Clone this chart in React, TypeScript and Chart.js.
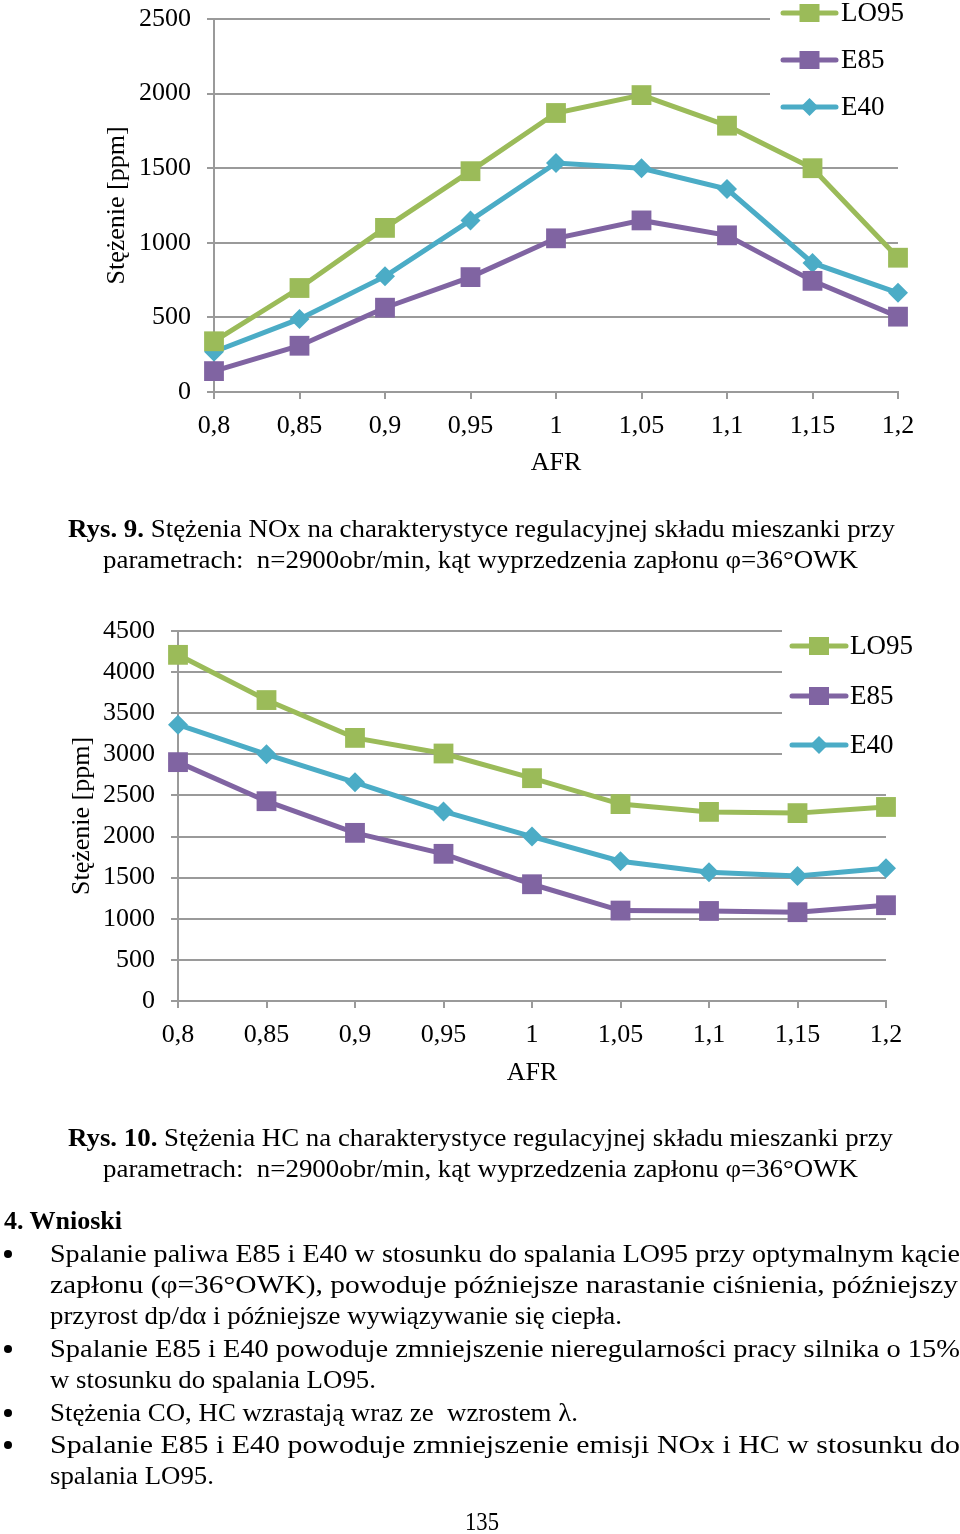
import React, { useEffect, useRef } from 'react';
import { Chart, registerables } from 'chart.js';

Chart.register(...registerables);

// ---------- data ----------
const AFR_LABELS = ['0,8', '0,85', '0,9', '0,95', '1', '1,05', '1,1', '1,15', '1,2'];
const SERIES_NAMES = ['LO95', 'E85', 'E40'];

const NOX_LO95 = [340, 697, 1100, 1480, 1870, 1990, 1785, 1500, 900];
const NOX_E85 = [140, 310, 565, 770, 1030, 1150, 1050, 745, 505];
const NOX_E40 = [270, 490, 775, 1150, 1535, 1500, 1360, 865, 665];

const HC_LO95 = [4210, 3660, 3200, 3010, 2710, 2395, 2300, 2285, 2360];
const HC_E85 = [2905, 2430, 2045, 1790, 1420, 1100, 1095, 1080, 1165];
const HC_E40 = [3360, 3000, 2660, 2305, 2000, 1700, 1565, 1520, 1615];

const NOX_MAX = 2500;
const HC_MAX = 4500;
const Y_STEP = 500;

const Y_TITLE = 'Stężenie [ppm]';
const X_TITLE = 'AFR';

// ---------- styles ----------
const FONT = '"Liberation Serif", "Times New Roman", serif';
const COLORS = ['#9bbb59', '#8064a2', '#4bacc6'];
const POINT_STYLES = ['rect', 'rect', 'rectRot'];
const POINT_RADII = [14, 14, 10];
const GRID = '#9a9a9a';

const insetLegend = {
  id: 'insetLegend',
  beforeDatasetsDraw(chart: any, _args: any, opts: any) {
    const { ctx } = chart;
    ctx.save();
    ctx.fillStyle = '#ffffff';
    ctx.fillRect(opts.boxLeft, 0, chart.width - opts.boxLeft, opts.boxBottom);
    chart.data.datasets.forEach((ds: any, i: number) => {
      const y = opts.ys[i];
      ctx.strokeStyle = ds.borderColor;
      ctx.lineWidth = 5;
      ctx.lineCap = 'round';
      ctx.beginPath();
      ctx.moveTo(opts.lineX1, y);
      ctx.lineTo(opts.lineX2, y);
      ctx.stroke();
      const cx = (opts.lineX1 + opts.lineX2) / 2;
      ctx.fillStyle = ds.backgroundColor;
      ctx.beginPath();
      if (ds.pointStyle === 'rectRot') {
        const r = 9;
        ctx.moveTo(cx, y - r);
        ctx.lineTo(cx + r, y);
        ctx.lineTo(cx, y + r);
        ctx.lineTo(cx - r, y);
        ctx.closePath();
      } else {
        ctx.rect(cx - 10, y - 9, 20, 18);
      }
      ctx.fill();
      ctx.fillStyle = '#000';
      ctx.font = `27px ${FONT}`;
      ctx.textBaseline = 'middle';
      ctx.textAlign = 'left';
      ctx.fillText(ds.label, opts.textX, y + 1);
    });
    ctx.restore();
  },
};

type Area = { left: number; right: number; top: number; bottom: number };

function LineChart(props: {
  top: number;
  height: number;
  series: number[][];
  yMax: number;
  area: Area;
  yTitleX: number;
  xTitleY: number;
  legend: any;
}) {
  const ref = useRef<HTMLCanvasElement | null>(null);
  useEffect(() => {
    if (!ref.current) return;
    const { height: H, area, yTitleX, xTitleY, series, yMax, legend } = props;
    const half = (26 * 1.2) / 2;
    const chart = new Chart(ref.current, {
      type: 'line',
      data: {
        labels: AFR_LABELS,
        datasets: series.map((vals, i) => ({
          label: SERIES_NAMES[i],
          data: vals,
          borderColor: COLORS[i],
          backgroundColor: COLORS[i],
          pointBackgroundColor: COLORS[i],
          pointBorderColor: COLORS[i],
          pointBorderWidth: 0,
          borderWidth: 5,
          pointStyle: POINT_STYLES[i] as any,
          pointRadius: POINT_RADII[i],
          tension: 0,
          clip: false as any,
        })),
      },
      options: {
        responsive: false,
        animation: false,
        devicePixelRatio: 1,
        layout: { padding: { left: 0, top: area.top, right: 960 - area.right, bottom: 0 } },
        plugins: {
          legend: { display: false },
          tooltip: { enabled: false },
          insetLegend: legend,
        } as any,
        scales: {
          x: {
            type: 'category',
            offset: false,
            grid: { color: 'rgba(0,0,0,0)', tickColor: GRID, tickLength: 7, lineWidth: 2, offset: false },
            border: { display: true, color: GRID, width: 2 },
            ticks: { color: '#000', font: { size: 26, family: FONT }, padding: 12, maxRotation: 0, autoSkip: false },
            title: {
              display: true,
              text: X_TITLE,
              color: '#000',
              font: { size: 26, family: FONT, lineHeight: 1.2 },
              padding: { top: 0, bottom: H - xTitleY - half },
            },
            afterFit: (s: any) => {
              s.height = H - area.bottom;
              s.paddingLeft = 0;
              s.paddingRight = 0;
            },
          },
          y: {
            min: 0,
            max: yMax,
            ticks: {
              stepSize: Y_STEP,
              color: '#000',
              font: { size: 26, family: FONT },
              padding: 16,
              callback: (v: any) => String(v),
            },
            grid: { color: GRID, tickColor: GRID, tickLength: 7, lineWidth: 2 },
            border: { display: true, color: GRID, width: 2 },
            title: {
              display: true,
              text: Y_TITLE,
              color: '#000',
              font: { size: 26, family: FONT, lineHeight: 1.2 },
              padding: { top: yTitleX - half, bottom: 0 },
            },
            afterFit: (s: any) => {
              s.width = area.left;
              s.paddingTop = 0;
              s.paddingBottom = 0;
            },
          },
        },
      } as any,
      plugins: [insetLegend],
    });
    return () => chart.destroy();
  }, []);
  return (
    <canvas
      ref={ref}
      width={960}
      height={props.height}
      style={{ position: 'absolute', left: 0, top: props.top, width: 960, height: props.height }}
    />
  );
}

type Line = { x1: number; x2: number; base: number; parts: { t: string; b?: boolean }[] };

const TEXT_LINES: Line[] = [
  { x1: 68, x2: 895, base: 537, parts: [{ t: 'Rys. 9.', b: true }, { t: ' Stężenia NOx na charakterystyce regulacyjnej składu mieszanki przy' }] },
  { x1: 103, x2: 858, base: 568, parts: [{ t: 'parametrach:  n=2900obr/min, kąt wyprzedzenia zapłonu φ=36°OWK' }] },
  { x1: 68, x2: 893, base: 1146, parts: [{ t: 'Rys. 10.', b: true }, { t: ' Stężenia HC na charakterystyce regulacyjnej składu mieszanki przy' }] },
  { x1: 103, x2: 858, base: 1177, parts: [{ t: 'parametrach:  n=2900obr/min, kąt wyprzedzenia zapłonu φ=36°OWK' }] },
  { x1: 4, x2: 122, base: 1229, parts: [{ t: '4. Wnioski', b: true }] },
  { x1: 50, x2: 960, base: 1262, parts: [{ t: 'Spalanie paliwa E85 i E40 w stosunku do spalania LO95 przy optymalnym kącie' }] },
  { x1: 50, x2: 958, base: 1293, parts: [{ t: 'zapłonu (φ=36°OWK), powoduje późniejsze narastanie ciśnienia, późniejszy' }] },
  { x1: 50, x2: 622, base: 1324, parts: [{ t: 'przyrost dp/dα i późniejsze wywiązywanie się ciepła.' }] },
  { x1: 50, x2: 960, base: 1357, parts: [{ t: 'Spalanie E85 i E40 powoduje zmniejszenie nieregularności pracy silnika o 15%' }] },
  { x1: 50, x2: 376, base: 1388, parts: [{ t: 'w stosunku do spalania LO95.' }] },
  { x1: 50, x2: 578, base: 1421, parts: [{ t: 'Stężenia CO, HC wzrastają wraz ze  wzrostem λ.' }] },
  { x1: 50, x2: 960, base: 1453, parts: [{ t: 'Spalanie E85 i E40 powoduje zmniejszenie emisji NOx i HC w stosunku do' }] },
  { x1: 50, x2: 214, base: 1484, parts: [{ t: 'spalania LO95.' }] },
  { x1: 465, x2: 499, base: 1530, parts: [{ t: '135' }] },
];

const BULLET_YS = [1254, 1349, 1413, 1445];

function PageText() {
  return (
    <svg
      width={960}
      height={1534}
      style={{ position: 'absolute', left: 0, top: 0, pointerEvents: 'none' }}
    >
      {TEXT_LINES.map((ln, i) => (
        <text
          key={i}
          x={ln.x1}
          y={ln.base}
          textLength={ln.x2 - ln.x1}
          lengthAdjust="spacingAndGlyphs"
          fontFamily={FONT}
          fontSize={26}
          fill="#000"
          style={{ whiteSpace: 'pre' }}
        >
          {ln.parts.map((p, j) => (
            <tspan key={j} fontWeight={p.b ? 'bold' : 'normal'}>
              {p.t}
            </tspan>
          ))}
        </text>
      ))}
      {BULLET_YS.map((y, i) => (
        <circle key={i} cx={8} cy={y} r={4} fill="#000" />
      ))}
    </svg>
  );
}

export default function App() {
  return (
    <div style={{ position: 'absolute', left: 0, top: 0, width: 960, height: 1534, background: '#fff', overflow: 'hidden' }}>
      <LineChart
        top={0}
        height={490}
        series={[NOX_LO95, NOX_E85, NOX_E40]}
        yMax={NOX_MAX}
        area={{ left: 214, right: 898, top: 19, bottom: 392 }}
        yTitleX={117}
        xTitleY={463}
        legend={{ boxLeft: 770, boxBottom: 130, lineX1: 783, lineX2: 836, textX: 841, ys: [13, 60, 107] }}
      />
      <LineChart
        top={600}
        height={490}
        series={[HC_LO95, HC_E85, HC_E40]}
        yMax={HC_MAX}
        area={{ left: 178, right: 886, top: 31, bottom: 401 }}
        yTitleX={82}
        xTitleY={473}
        legend={{ boxLeft: 782, boxBottom: 172, lineX1: 792, lineX2: 846, textX: 850, ys: [46, 96, 145] }}
      />
      <PageText />
    </div>
  );
}
